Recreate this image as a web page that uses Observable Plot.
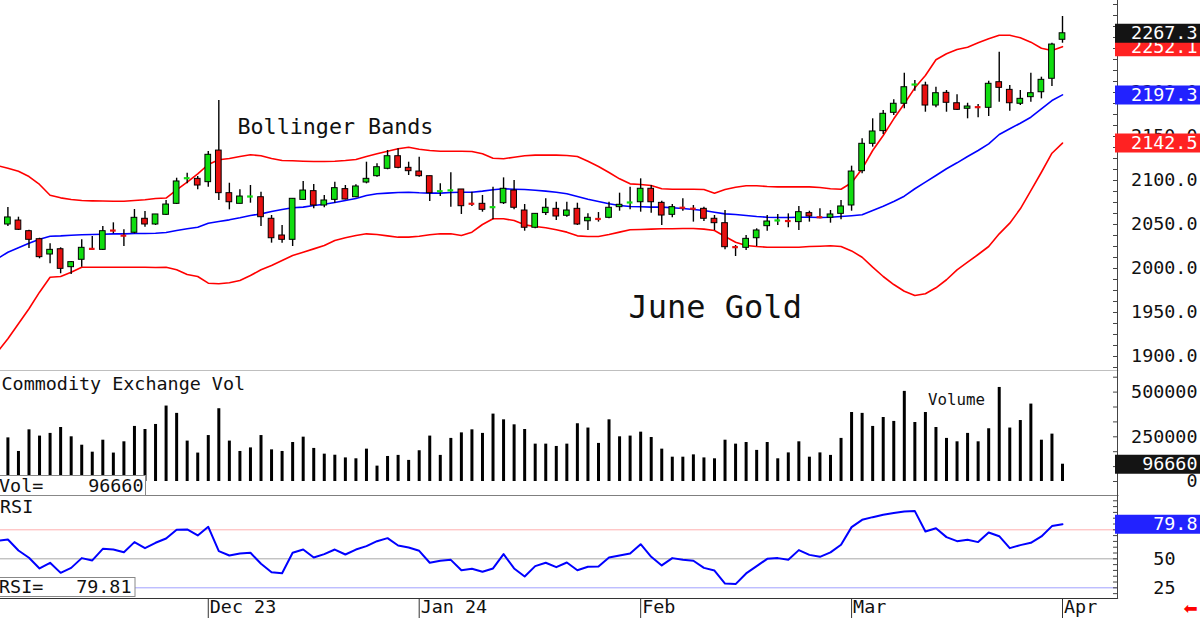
<!DOCTYPE html>
<html><head><meta charset="utf-8">
<script src="https://cdn.jsdelivr.net/npm/d3@7"></script>
<script src="https://cdn.jsdelivr.net/npm/@observablehq/plot@0.6"></script>
<style>
html,body{margin:0;padding:0;background:#fff;}
#chart{width:1200px;height:618px;overflow:hidden;background:#fff;}
#chart svg{display:block;}
</style></head><body><div id="chart"></div>
<script>
// ---------- DATA (daily June Gold, 3 Nov 2023 .. 1 Apr 2024, index 0..100) ----------
const open  = [2050.0,2054.5,2042.4,2033.3,2015.9,2021.9,2001.5,2009.9,2022.6,2021.2,2043.4,2037.6,2040.6,2056.5,2050.0,2061.0,2073.5,2102.4,2101.9,2098.1,2134.0,2085.6,2073.5,2081.6,2081.0,2056.5,2037.5,2032.6,2078.0,2087.9,2071.6,2078.0,2090.2,2081.0,2097.7,2104.9,2113.3,2127.6,2114.4,2110.2,2104.9,2087.6,2088.6,2089.8,2073.8,2073.5,2069.5,2074.2,2088.6,2065.9,2046.3,2063.0,2067.8,2059.9,2067.8,2053.7,2056.6,2057.6,2069.7,2074.8,2075.3,2090.6,2074.6,2061.0,2069.3,2068.2,2067.8,2056.5,2051.5,2024.5,2023.5,2034.4,2048.1,2054.4,2054.2,2052.7,2062.9,2058.5,2057.6,2062.1,2071.6,2110.6,2141.7,2156.1,2176.9,2187.2,2208.8,2208.0,2185.2,2199.6,2187.8,2181.5,2183.6,2182.6,2211.7,2203.0,2187.2,2194.7,2200.3,2215.6,2259.9];
const high  = [2069.3,2058.3,2043.5,2034.4,2028.0,2023.5,2008.0,2032.6,2036.4,2047.7,2051.9,2044.0,2067.0,2064.8,2061.4,2077.3,2102.6,2108.3,2104.5,2133.0,2190.9,2096.9,2089.4,2094.3,2086.7,2060.2,2048.9,2079.2,2098.9,2095.5,2082.9,2098.1,2094.3,2095.1,2120.8,2119.0,2134.1,2136.0,2120.8,2126.5,2104.9,2096.2,2108.7,2089.8,2086.7,2083.0,2092.4,2103.0,2100.0,2072.7,2062.1,2079.2,2075.3,2075.3,2074.2,2062.1,2063.6,2075.3,2085.6,2092.4,2101.9,2094.3,2076.5,2072.7,2079.2,2071.6,2069.7,2060.2,2065.9,2026.1,2037.5,2045.1,2060.2,2061.4,2062.1,2070.5,2065.1,2067.8,2065.9,2077.3,2116.3,2147.4,2170.1,2179.5,2191.7,2221.9,2213.6,2211.7,2206.0,2202.3,2197.4,2187.8,2186.4,2212.8,2245.8,2208.0,2202.3,2221.9,2217.4,2256.0,2286.4];
const low   = [2047.7,2043.2,2022.7,2011.0,2005.3,1994.0,1993.2,2001.5,2020.5,2020.5,2039.4,2025.0,2039.4,2046.9,2048.9,2060.2,2072.7,2096.2,2089.4,2092.4,2077.3,2066.7,2073.5,2074.2,2047.7,2028.8,2028.8,2025.0,2077.3,2067.8,2069.0,2074.2,2078.0,2080.3,2096.2,2103.8,2112.2,2113.3,2105.7,2103.8,2076.1,2081.8,2069.7,2061.4,2070.5,2064.0,2055.3,2072.7,2066.7,2042.4,2045.1,2060.2,2054.5,2058.3,2048.9,2043.2,2052.7,2056.5,2065.1,2066.7,2064.0,2062.9,2048.9,2057.6,2065.1,2052.7,2053.4,2043.2,2021.2,2013.6,2020.5,2025.0,2042.4,2048.9,2046.3,2043.2,2052.7,2056.5,2051.5,2055.3,2065.1,2107.6,2137.9,2152.3,2173.9,2181.5,2201.5,2177.6,2182.6,2177.6,2179.5,2170.1,2171.3,2172.7,2189.0,2178.8,2185.2,2189.0,2192.8,2206.8,2256.0];
const close = [2058.0,2044.0,2032.6,2012.9,2021.2,1999.6,2007.2,2023.5,2022.0,2042.4,2042.8,2037.0,2057.6,2050.0,2061.4,2072.7,2098.9,2102.8,2094.3,2129.2,2085.6,2075.3,2081.8,2082.0,2058.3,2034.4,2032.6,2079.2,2088.6,2071.6,2077.3,2091.3,2078.4,2093.2,2101.9,2115.1,2127.6,2114.4,2110.6,2104.9,2085.6,2088.0,2089.0,2070.8,2073.3,2066.7,2069.9,2090.6,2069.0,2046.3,2062.1,2069.0,2059.1,2065.9,2050.0,2057.6,2056.0,2069.0,2072.4,2075.2,2090.6,2075.3,2060.2,2069.7,2068.8,2067.7,2056.5,2051.5,2024.2,2024.0,2033.7,2043.2,2053.4,2054.8,2053.7,2064.0,2059.1,2058.0,2061.4,2070.5,2110.2,2141.7,2155.7,2175.8,2187.2,2206.0,2209.3,2185.2,2199.2,2188.3,2180.3,2184.1,2183.1,2209.9,2205.3,2187.8,2192.8,2199.2,2214.4,2254.5,2267.3];
const volume = [244000,168000,289000,254000,269000,302000,250000,203000,164000,231000,159000,222000,308000,291000,319000,422000,381000,226000,159000,257000,407000,226000,168000,188000,257000,177000,168000,218000,248000,185000,153000,147000,132000,127000,181000,86000,140000,146000,118000,172000,254000,146000,241000,272000,289000,269000,377000,345000,317000,291000,209000,209000,196000,209000,323000,299000,213000,345000,250000,254000,276000,246000,181000,136000,136000,149000,132000,127000,231000,209000,218000,174000,218000,127000,160000,222000,136000,160000,146000,241000,386000,381000,308000,358000,336000,504000,330000,386000,302000,241000,222000,269000,222000,295000,526000,299000,341000,433000,231000,265000,96660];
// Bollinger bands and RSI start one session before the first candle (index -1)
const seriesStart = -1;
const bbUpper  = [2117.0,2114.0,2110.6,2104.5,2095.5,2083.3,2080.3,2078.4,2077.3,2076.9,2076.7,2076.5,2076.5,2077.3,2078.1,2079.5,2080.1,2089.4,2098.1,2107.6,2118.2,2123.5,2125.0,2127.3,2129.2,2128.1,2125.0,2122.7,2122.4,2121.9,2121.6,2121.6,2121.9,2122.7,2123.9,2127.3,2130.3,2133.3,2136.0,2137.8,2135.6,2134.1,2133.3,2133.3,2133.3,2133.0,2130.3,2125.3,2124.7,2126.5,2128.1,2128.8,2128.8,2128.8,2128.4,2127.3,2121.9,2115.9,2109.1,2101.9,2096.2,2095.5,2094.3,2090.6,2090.1,2090.1,2090.1,2089.8,2085.6,2089.8,2092.4,2094.0,2094.0,2093.2,2092.8,2092.8,2092.8,2092.8,2092.0,2090.6,2090.1,2097.5,2113.3,2134.1,2151.1,2170.1,2187.2,2205.3,2219.3,2237.2,2244.0,2248.9,2251.5,2256.5,2261.0,2265.1,2265.1,2262.2,2257.2,2250.3,2247.7,2252.1];
const bbMiddle = [2011.0,2018.5,2023.5,2028.8,2033.3,2036.7,2037.1,2037.8,2038.3,2038.6,2039.0,2039.4,2039.4,2039.8,2039.8,2040.1,2040.9,2043.2,2045.1,2046.9,2051.5,2053.4,2055.3,2057.6,2060.2,2062.1,2064.8,2067.0,2069.0,2069.7,2071.6,2073.1,2075.0,2077.3,2079.5,2083.0,2084.9,2085.6,2086.4,2086.7,2086.0,2085.6,2085.6,2086.4,2086.7,2086.7,2087.9,2089.4,2090.6,2090.1,2089.8,2089.0,2087.9,2086.7,2084.9,2081.8,2078.8,2076.1,2073.5,2071.6,2070.5,2070.1,2069.7,2069.7,2069.0,2068.2,2067.0,2065.9,2064.0,2062.1,2061.4,2060.2,2059.1,2058.3,2058.0,2058.0,2058.3,2058.3,2058.0,2058.3,2059.1,2060.0,2061.0,2065.9,2070.8,2076.1,2082.2,2090.6,2098.1,2105.7,2113.3,2120.1,2127.3,2134.1,2141.7,2152.3,2158.8,2165.1,2171.9,2181.5,2190.9,2197.3];
const bbLower  = [1905.0,1920.1,1937.2,1954.2,1973.1,1990.1,1990.9,1995.8,2001.5,2001.5,2001.5,2001.5,2001.5,2001.5,2001.5,2001.1,2001.5,1998.5,1993.2,1990.9,1983.3,1982.6,1983.8,1986.4,1992.0,1998.5,2003.4,2009.1,2014.8,2018.5,2022.3,2026.1,2031.8,2034.9,2037.5,2039.4,2038.6,2037.1,2035.6,2035.6,2036.7,2038.3,2039.4,2039.4,2037.5,2041.3,2050.0,2056.5,2056.5,2054.5,2049.6,2047.7,2046.3,2044.0,2041.3,2037.1,2036.4,2036.4,2038.6,2041.3,2044.0,2044.3,2044.7,2045.1,2045.1,2045.5,2045.5,2044.7,2043.2,2036.4,2029.9,2026.1,2025.0,2024.2,2024.2,2024.2,2024.2,2025.0,2025.3,2025.8,2025.0,2020.0,2012.8,2001.5,1990.9,1981.8,1974.2,1969.3,1971.3,1978.1,1987.2,1998.5,2007.2,2015.9,2025.0,2039.4,2051.5,2067.8,2088.6,2109.4,2131.0,2142.5];
const rsi      = [65.5,66.7,57.2,50.9,41.7,46.6,37.9,42.2,50.6,48.6,58.6,58.0,55.7,64.4,59.2,63.8,67.5,75.0,75.3,70.1,77.6,56.6,52.9,54.6,55.2,45.7,38.5,37.6,55.2,58.0,51.1,54.0,58.0,53.7,58.0,60.9,65.2,67.8,61.5,59.8,56.9,46.6,48.3,49.1,40.2,41.4,38.8,41.7,54.0,41.7,34.8,43.7,46.6,42.8,46.8,40.2,43.1,43.4,51.1,52.9,54.6,62.6,51.7,44.3,50.6,49.1,48.3,42.2,39.9,28.7,28.2,37.4,43.7,50.0,50.6,49.1,57.5,53.4,51.7,55.5,62.1,77.3,83.6,85.9,87.9,89.4,90.8,91.1,73.6,76.4,68.7,65.2,66.4,64.4,72.7,69.5,59.2,61.8,63.8,69.3,78.2,79.81];

// month axis: index of first session of each month, and its label
const monthTickIndex = [19, 39, 60, 80, 100];
const monthLabels = ["Dec 23", "Jan 24", "Feb", "Mar", "Apr"];
// right-hand axes
const priceTickLabels = [1900, 1950, 2000, 2050, 2100, 2150, 2200, 2250];
const priceMinorTicks = d3.range(1887.5, 2301, 12.5);
const volumeTickLabels = [0, 250000, 500000];
const volumeMinorTicks = d3.range(0, 600000, 250000 / 3);
const rsiTickLabels = [25, 50];
const rsiMinorTicks = d3.range(20, 101, 5);
const rsiLevels = [75, 50, 25];
const rsiLevelColors = ["#ffb0b0", "#a8a8a8", "#a0a0ff"];
// annotations
const priceTitle = "Bollinger Bands";
const contractTitle = "June Gold";
const volumePanelTitle = "Commodity Exchange Vol";
const volumeLegend = "Volume";
const rsiPanelTitle = "RSI";

// ---------- LAYOUT ----------
const W = 1200, AXIS_X = 1117, MR = W - AXIS_X;
const X0 = 7.4, STEP = 10.546;               // pixel of first candle, pixels per session
const xDomain = [-X0 / STEP, (AXIS_X - X0) / STEP];
const FONT = "DejaVu Sans Mono";
const FS = 18.4;
const GREEN = "#10dd10", RED = "#e81010";
const BOXRED = "#ff2222", BOXBLUE = "#2222ff", BOXBLACK = "#141414";
const BW = 0.27;

const candles = open.map((o, i) => ({i, o, h: high[i], l: low[i], c: close[i], up: close[i] >= o}));
const bodies = candles.filter(d => Math.abs(d.c - d.o) >= 1);
const dojis = candles.filter(d => Math.abs(d.c - d.o) < 1);
const bands = bbUpper.map((u, k) => ({i: k + seriesStart, u, m: bbMiddle[k], l: bbLower[k]}));
const vols = volume.map((v, i) => ({i, v}));
const rsiData = rsi.map((r, k) => ({i: k + seriesStart, r}));
const last = a => a[a.length - 1];

function label(str, dx, dy, opts = {}) {
  return Plot.text([str], {text: d => d, frameAnchor: "top-left", dx, dy, textAnchor: "start",
    lineAnchor: "middle", fontSize: FS, fontFamily: FONT, fill: "#111", ...opts});
}
function valueBox(v, color, text, fmt) {
  return [
    Plot.ruleY([v], {y: d => d, stroke: color, strokeWidth: 19, insetLeft: AXIS_X - 2, insetRight: -MR}),
    Plot.text([v], {y: d => d, text: fmt, frameAnchor: "right", dx: 80, textAnchor: "end",
      lineAnchor: "middle", fill: text, fontSize: FS, fontFamily: FONT})
  ];
}

// ---------- PRICE PANEL ----------
const price = Plot.plot({
  width: W, height: 371, marginLeft: 0, marginRight: MR, marginTop: 0, marginBottom: 0,
  style: "background:white;",
  x: {domain: xDomain, axis: null},
  y: {domain: [1882.95, 2304.55], axis: null, label: null},
  marks: [
    Plot.line(bands, {x: "i", y: "u", stroke: "#ff0000", strokeWidth: 1.6, clip: true}),
    Plot.line(bands, {x: "i", y: "m", stroke: "#0000ff", strokeWidth: 1.6, clip: true}),
    Plot.line(bands, {x: "i", y: "l", stroke: "#ff0000", strokeWidth: 1.6, clip: true}),
    Plot.ruleX(candles, {x: "i", y1: "l", y2: "h", stroke: "#000", strokeWidth: 1.4}),
    Plot.rect(bodies, {x1: d => d.i - BW, x2: d => d.i + BW, y1: "o", y2: "c",
      fill: d => d.up ? GREEN : RED, stroke: "#000", strokeWidth: 1}),
    Plot.ruleY(dojis, {y: d => (d.o + d.c) / 2, x1: d => d.i - BW, x2: d => d.i + BW,
      stroke: d => d.up ? GREEN : RED, strokeWidth: 2.2}),
    Plot.frame({anchor: "bottom", stroke: "#000", strokeWidth: 1.6}),
    Plot.frame({anchor: "right", stroke: "#444"}),
    Plot.ruleY(priceMinorTicks, {y: d => d, insetLeft: AXIS_X - 4, stroke: "#444"}),
    Plot.axisY(priceTickLabels, {anchor: "right", tickSize: 0, tickPadding: 80, textAnchor: "end",
      tickFormat: d => d.toFixed(1), fontSize: FS, fontFamily: FONT, fill: "#111", label: null}),
    ...valueBox(last(bbUpper), BOXRED, "white", d => d.toFixed(1)),
    ...valueBox(last(close), BOXBLACK, "white", d => d.toFixed(1)),
    ...valueBox(last(bbMiddle), BOXBLUE, "white", d => d.toFixed(1)),
    ...valueBox(last(bbLower), BOXRED, "white", d => d.toFixed(1)),
    label(priceTitle, 237, 126.5, {fontSize: 21.7}),
    label(contractTitle, 628, 307, {fontSize: 32})
  ]
});

// ---------- VOLUME PANEL ----------
const vol = Plot.plot({
  width: W, height: 125, marginLeft: 0, marginRight: MR, marginTop: 0, marginBottom: 0,
  style: "background:white;",
  x: {domain: xDomain, axis: null},
  y: {domain: [-83893, 615213], axis: null, label: null},
  marks: [
    Plot.ruleX(vols, {x: "i", y1: 0, y2: "v", stroke: "#000", strokeWidth: 3}),
    Plot.frame({anchor: "bottom", stroke: "#000", strokeWidth: 2}),
    Plot.frame({anchor: "right", stroke: "#444"}),
    Plot.ruleY(volumeMinorTicks, {y: d => d, insetLeft: AXIS_X - 4, stroke: "#444"}),
    Plot.axisY(volumeTickLabels, {anchor: "right", tickSize: 0, tickPadding: 80, textAnchor: "end",
      tickFormat: d => String(d), fontSize: FS, fontFamily: FONT, fill: "#111", label: null}),
    ...valueBox(last(volume), BOXBLACK, "white", d => String(d)),
    Plot.frame({insetTop: 104, insetLeft: -2, insetRight: AXIS_X - 145, insetBottom: 1, fill: "white", stroke: "#888"}),
    label("Vol=", -1.5, 114.5),
    label(String(last(volume)), 143, 114.5, {textAnchor: "end"}),
    label(volumePanelTitle, 1, 12.5),
    label(volumeLegend, 927.5, 28.5, {fontSize: 15.8})
  ]
});

// ---------- RSI PANEL + DATE AXIS ----------
const rsiPlot = Plot.plot({
  width: W, height: 122, marginLeft: 0, marginRight: MR, marginTop: 0, marginBottom: 20,
  style: "background:white;",
  x: {domain: xDomain, axis: null},
  y: {domain: [15.8, 103.7], axis: null, label: null},
  marks: [
    Plot.ruleY(rsiLevels, {y: d => d, stroke: (d, i) => rsiLevelColors[i], strokeWidth: 1}),
    Plot.line(rsiData, {x: "i", y: "r", stroke: "#0000ff", strokeWidth: 2, clip: true}),
    Plot.frame({anchor: "bottom", stroke: "#333", strokeWidth: 1.2}),
    Plot.frame({anchor: "right", stroke: "#444"}),
    Plot.ruleY(rsiMinorTicks, {y: d => d, insetLeft: AXIS_X - 4, stroke: "#444"}),
    Plot.axisY(rsiTickLabels, {anchor: "right", tickSize: 0, tickPadding: 58, textAnchor: "end",
      tickFormat: d => String(d), fontSize: FS, fontFamily: FONT, fill: "#111", label: null}),
    ...valueBox(last(rsi), BOXBLUE, "white", d => d.toFixed(1)),
    Plot.frame({insetTop: 81, insetLeft: -2, insetRight: AXIS_X - 134.5, insetBottom: 2, fill: "white", stroke: "#888"}),
    label("RSI=", -1.5, 91),
    label(last(rsi).toFixed(2), 131, 91, {textAnchor: "end"}),
    label(rsiPanelTitle, -0.5, 11),
    Plot.ruleX(monthTickIndex, {x: d => d, insetTop: 102, insetBottom: -20, stroke: "#333"}),
    Plot.text(monthTickIndex, {x: d => d, text: (d, i) => monthLabels[i], frameAnchor: "bottom", dx: 1.5, dy: 8.5,
      textAnchor: "start", lineAnchor: "middle", fontSize: FS, fontFamily: FONT, fill: "#111"}),
    Plot.text(["\u2B05"], {text: d => d, frameAnchor: "bottom-right", dx: 73, dy: 10, textAnchor: "middle",
      lineAnchor: "middle", fontSize: 17, fontFamily: "DejaVu Sans", fill: "#ff0000"})
  ]
});

const root = document.getElementById("chart");
root.append(price, vol, rsiPlot);
</script>
</body></html>
